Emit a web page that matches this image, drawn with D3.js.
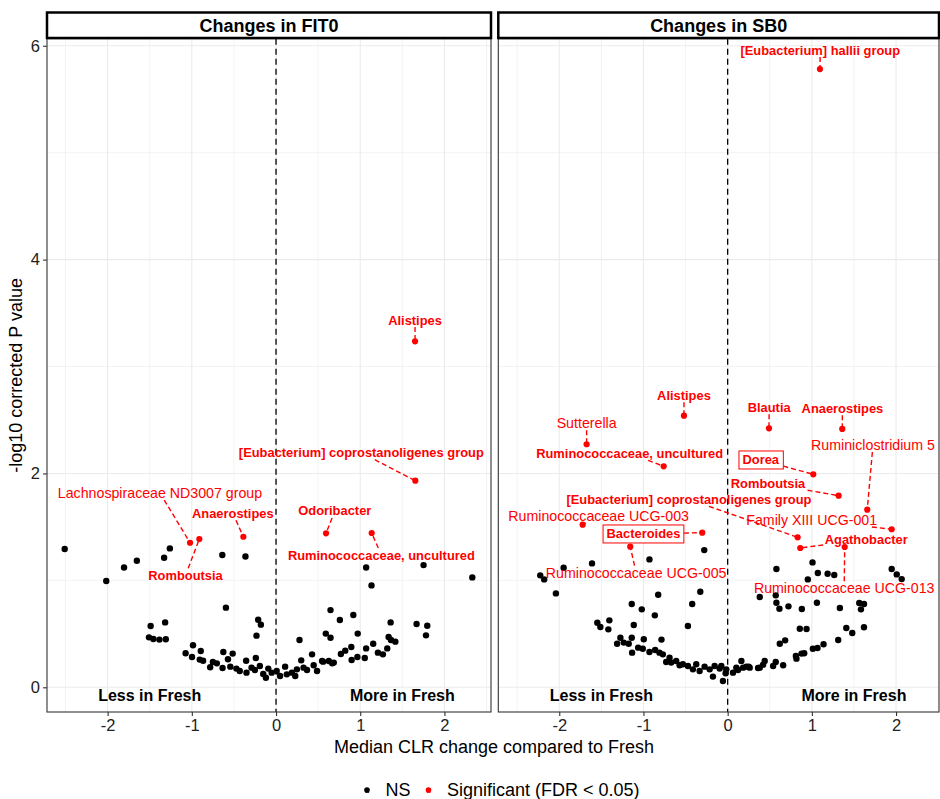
<!DOCTYPE html>
<html>
<head>
<meta charset="utf-8">
<script src="https://cdn.jsdelivr.net/npm/d3@7"></script>
<style>
  body { margin: 0; background: #fff; }
  text { font-family: "Liberation Sans", Arial, Helvetica, sans-serif; }
</style>
</head>
<body>
<div id="chart"></div>
<script>
// ---- data ----
const panelTitles = ["Changes in FIT0", "Changes in SB0"];
const xTicks = [-2, -1, 0, 1, 2];
const yTicks = [0, 2, 4, 6];
const legendLabels = ["NS", "Significant (FDR < 0.05)"];
const sideLabels = ["Less in Fresh", "More in Fresh"];

// FIT0, not significant: [median CLR change, -log10 p]
const fitNS = [
  [-2.51,1.293],[-2.016,0.994],[-1.805,1.121],[-1.653,1.184],[-1.329,1.212],[-1.261,1.299],[-0.638,1.237],[-0.363,1.224],
  [-1.489,0.573],[-1.317,0.607],[-1.509,0.467],[-1.457,0.452],[-1.385,0.446],[-1.309,0.449],
  [-0.595,0.745],[-0.212,0.632],[-0.180,0.586],[-0.232,0.483],[0.279,0.442],
  [-1.074,0.318],[-0.986,0.393],[-0.998,0.283],[-0.894,0.339],[-0.906,0.259],[-0.866,0.249],[-0.782,0.187],[-0.750,0.237],
  [-0.703,0.224],[-0.626,0.330],[-0.635,0.181],[-0.571,0.262],[-0.515,0.315],[-0.543,0.193],[-0.471,0.175],[-0.431,0.153],
  [-0.355,0.249],[-0.351,0.137],[-0.291,0.184],[-0.240,0.274],[-0.251,0.162],[-0.192,0.199],[-0.152,0.124],[-0.120,0.090],
  [-0.092,0.175],[-0.052,0.137],[0.008,0.153],[0.048,0.106],[0.108,0.193],[0.128,0.121],[0.188,0.137],[0.228,0.106],
  [0.248,0.168],[0.299,0.252],[0.327,0.184],[0.368,0.162],[0.428,0.308],[0.447,0.206],[0.487,0.153],[0.547,0.246],
  [0.591,0.502],[0.647,0.722],[0.647,0.464],[0.627,0.246],[0.667,0.224],[0.758,0.629],
  [0.918,0.676],[0.970,0.502],[1.134,0.953],[1.361,0.607],[1.337,0.470],[1.365,0.442],[1.417,0.427],[1.669,0.592],
  [1.796,0.576],[1.781,0.486],[0.894,0.377],[0.822,0.343],[0.770,0.311],[0.898,0.255],[0.966,0.283],[1.054,0.274],
  [1.070,0.364],[1.154,0.408],[1.210,0.324],[1.269,0.308],[1.321,0.364],[0.686,0.231],[0.559,0.240],
  [1.07,1.121],[1.752,1.143],[2.331,1.028]
];

// FIT0, significant: [taxon, x, y]
const fitSig = [
  ["Alistipes", 1.651, 3.236],
  ["[Eubacterium] coprostanoligenes group", 1.654, 1.932],
  ["Odoribacter", 0.594, 1.440],
  ["Ruminococcaceae, uncultured", 1.136, 1.443],
  ["Lachnospiraceae ND3007 group", -1.021, 1.352],
  ["Romboutsia", -0.911, 1.387],
  ["Anaerostipes", -0.388, 1.408]
];
// where the repelled labels ended up, same order, data units
const fitLabelAt = [
  [1.651, 3.435], [1.013, 2.194], [0.698, 1.649], [1.251, 1.237],
  [-1.378, 1.817], [-1.075, 1.047], [-0.513, 1.627]
];

// SB0, not significant
const sbNS = [
  [-2.226,1.047],[-2.179,1.009],[-1.948,1.118],[-2.040,0.878],[-1.611,1.159],[-0.929,1.196],[-0.278,1.283],[-0.325,0.894],
  [-0.825,0.866],[-0.421,0.779],[-1.139,0.779],[-1.020,0.729],[-0.865,0.673],[-0.472,0.573],[-1.115,0.583],[-1.548,0.604],
  [-1.512,0.564],[-1.405,0.626],[-1.417,0.542],[-1.313,0.408],[-1.274,0.464],[-1.234,0.418],[-1.175,0.408],[-1.139,0.464],
  [-1.135,0.324],[-1.063,0.371],[-1.008,0.361],[-0.996,0.449],[-0.786,0.446],[-0.929,0.330],[-0.861,0.349],[-0.810,0.324],
  [-0.770,0.308],[-0.730,0.237],[-0.690,0.277],[-0.671,0.231],[-0.611,0.246],[-0.571,0.206],[-0.532,0.215],[-0.472,0.199],
  [-0.413,0.168],[-0.373,0.215],[-0.333,0.153],[-0.274,0.193],[-0.214,0.168],[-0.155,0.199],[-0.095,0.175],[-0.056,0.059],
  [-0.024,0.131],[-0.175,0.100],[0.163,0.246],[0.103,0.184],[0.222,0.193],[0.262,0.184],[0.063,0.137],[0.381,0.184],
  [0.579,1.106],[1.008,1.168],[0.952,1.009],[1.071,1.069],[1.187,1.062],[1.266,1.050],[1.948,1.106],[2.008,1.056],
  [2.067,1.012],[0.381,0.844],[0.571,0.860],[0.579,0.791],[0.615,0.735],[0.722,0.757],[0.881,0.732],[1.060,0.791],
  [1.333,0.741],[1.563,0.788],[1.619,0.779],[1.583,0.729],[0.857,0.548],[0.937,0.545],[0.619,0.408],[0.683,0.439],
  [1.409,0.554],[1.480,0.508],[1.619,0.561],[1.313,0.442],[1.139,0.402],[1.067,0.367],[1.012,0.361],[0.909,0.318],
  [0.877,0.315],[0.817,0.268],[0.810,0.293],[0.659,0.206],[0.571,0.237],[0.540,0.199],[0.440,0.246],[0.421,0.212],
  [0.361,0.181],[0.25,0.193],[0.183,0.184],[0.123,0.162],[-0.016,0.168],[-0.075,0.199]
];

// SB0, significant
const sbSig = [
  ["[Eubacterium] hallii group", 1.096, 5.782],
  ["Alistipes", -0.519, 2.540],
  ["Sutterella", -1.675, 2.273],
  ["Ruminococcaceae, uncultured", -0.760, 2.067],
  ["Ruminococcaceae UCG-003", -1.722, 1.521],
  ["Bacteroides", -0.302, 1.446],
  ["Ruminococcaceae UCG-005", -1.157, 1.315],
  ["[Eubacterium] coprostanoligenes group", 0.831, 1.403],
  ["Blautia", 0.491, 2.422],
  ["Anaerostipes", 1.361, 2.416],
  ["Ruminiclostridium 5", 1.658, 1.661],
  ["Dorea", 1.017, 1.992],
  ["Romboutsia", 1.318, 1.792],
  ["Family XIII UCG-001", 1.948, 1.478],
  ["Agathobacter", 0.862, 1.303],
  ["Ruminococcaceae UCG-013", 1.390, 1.312]
];
const sbLabelAt = [
  [1.100, 5.960], [-0.519, 2.731], [-1.675, 2.469], [-1.164, 2.188],
  [-1.532, 1.602], [-1.000, 1.434], [-1.087, 1.072], [-0.460, 1.758],
  [0.493, 2.619], [1.363, 2.609], [1.726, 2.266], [0.393, 2.126],
  [0.479, 1.908], [0.998, 1.565], [1.646, 1.384], [1.384, 0.926]
];

// label styling (genera shown bold / boxed in the original)
const plainLabels = new Set(["Lachnospiraceae ND3007 group", "Sutterella", "Ruminococcaceae UCG-003",
  "Ruminococcaceae UCG-005", "Ruminiclostridium 5", "Family XIII UCG-001", "Ruminococcaceae UCG-013"]);
const boxedLabels = new Set(["Bacteroides", "Dorea"]);

// ---- layout ----
const W = 940, H = 799;
const RED = "#FF0000";
const panelTop = 38.7, panelBottom = 712;
const panelsGeo = [
  {x0: 47, x1: 491, domain: [-2.72, 2.553], ns: fitNS, sig: fitSig, lab: fitLabelAt},
  {x0: 498.3, x1: 939, domain: [-2.724, 2.51], ns: sbNS, sig: sbSig, lab: sbLabelAt}
];

const svg = d3.select("#chart").append("svg")
  .attr("width", W).attr("height", H)
  .attr("viewBox", "0 0 " + W + " " + H);

const y = d3.scaleLinear().domain([-0.231, 6.066]).range([panelBottom, panelTop]);
const fmt = d => (d < 0 ? "-" : "") + Math.abs(d);

panelsGeo.forEach(function(p, i) {
  const x = d3.scaleLinear().domain(p.domain).range([p.x0, p.x1]);
  const g = svg.append("g");

  // grid
  const minorX = d3.range(-2.5, 3, 1).filter(v => v > p.domain[0] && v < p.domain[1]);
  const minorY = [1, 3, 5];
  g.selectAll(".mx").data(minorX).enter().append("line")
    .attr("x1", d => x(d)).attr("x2", d => x(d)).attr("y1", panelTop).attr("y2", panelBottom)
    .attr("stroke", "#ebebeb").attr("stroke-width", 0.6);
  g.selectAll(".my").data(minorY).enter().append("line")
    .attr("x1", p.x0).attr("x2", p.x1).attr("y1", d => y(d)).attr("y2", d => y(d))
    .attr("stroke", "#ebebeb").attr("stroke-width", 0.6);
  g.selectAll(".gx").data(xTicks).enter().append("line")
    .attr("x1", d => x(d)).attr("x2", d => x(d)).attr("y1", panelTop).attr("y2", panelBottom)
    .attr("stroke", "#ebebeb").attr("stroke-width", 1.1);
  g.selectAll(".gy").data(yTicks).enter().append("line")
    .attr("x1", p.x0).attr("x2", p.x1).attr("y1", d => y(d)).attr("y2", d => y(d))
    .attr("stroke", "#ebebeb").attr("stroke-width", 1.1);

  // zero line
  g.append("line")
    .attr("x1", x(0)).attr("x2", x(0)).attr("y1", panelTop).attr("y2", panelBottom)
    .attr("stroke", "black").attr("stroke-width", 1.3).attr("stroke-dasharray", "6,4");

  // side annotations
  g.selectAll(".side").data(sideLabels).enter().append("text")
    .attr("x", (d, j) => x(j === 0 ? -1.5 : 1.5))
    .attr("y", y(0) + 14)
    .attr("text-anchor", "middle")
    .attr("font-size", 16).attr("font-weight", "bold")
    .text(d => d);

  // points
  g.selectAll(".ns").data(p.ns).enter().append("circle")
    .attr("cx", d => x(d[0])).attr("cy", d => y(d[1])).attr("r", 3.2).attr("fill", "black");

  // label segments + labels
  const lg = g.append("g");
  const segG = lg.append("g");
  p.sig.forEach(function(s, k) {
    const lx = x(p.lab[k][0]), ly = y(p.lab[k][1]);
    const bold = !plainLabels.has(s[0]);
    const t = lg.append("text")
      .attr("x", lx).attr("y", ly)
      .attr("text-anchor", "middle").attr("dominant-baseline", "central")
      .attr("font-size", bold ? 12.9 : 14.2)
      .attr("font-weight", bold ? "bold" : "normal")
      .attr("fill", RED)
      .text(s[0]);
    const bb = t.node().getBBox();
    let bx0 = bb.x - 1.5, bx1 = bb.x + bb.width + 1.5, by0 = ly - 7, by1 = ly + 7;
    if (boxedLabels.has(s[0])) {
      bx0 = bb.x - 3.5; bx1 = bb.x + bb.width + 3.5; by0 = ly - 9; by1 = ly + 9;
      lg.insert("rect", function() { return t.node(); })
        .attr("x", bx0).attr("y", by0).attr("width", bx1 - bx0).attr("height", by1 - by0)
        .attr("fill", "white").attr("stroke", RED).attr("stroke-width", 1);
    }
    // segment from label box edge to the point
    const px = x(s[1]), py = y(s[2]);
    const dx = px - lx, dy = py - ly;
    if (!(px > bx0 && px < bx1 && py > by0 && py < by1)) {
      const tx = dx === 0 ? Infinity : ((dx > 0 ? bx1 : bx0) - lx) / dx;
      const ty = dy === 0 ? Infinity : ((dy > 0 ? by1 : by0) - ly) / dy;
      const tt = Math.min(tx, ty);
      const sx = lx + tt * dx, sy = ly + tt * dy;
      const len = Math.hypot(px - sx, py - sy);
      if (len > 2) {
        segG.append("line")
          .attr("x1", sx).attr("y1", sy)
          .attr("x2", px - (px - sx) / len * 1.5).attr("y2", py - (py - sy) / len * 1.5)
          .attr("stroke", RED).attr("stroke-width", 1.4).attr("stroke-dasharray", "5,3");
      }
    }
  });
  g.insert("g", function() { return lg.node(); }).selectAll("circle").data(p.sig).enter().append("circle")
    .attr("cx", d => x(d[1])).attr("cy", d => y(d[2])).attr("r", 3.1).attr("fill", RED);

  // panel border
  g.append("rect")
    .attr("x", p.x0).attr("y", panelTop).attr("width", p.x1 - p.x0).attr("height", panelBottom - panelTop)
    .attr("fill", "none").attr("stroke", "#333333").attr("stroke-width", 1.1);

  // strip
  g.append("rect")
    .attr("x", p.x0).attr("y", 12.5).attr("width", p.x1 - p.x0).attr("height", 25.5)
    .attr("fill", "white").attr("stroke", "black").attr("stroke-width", 2.5);
  g.append("text")
    .attr("x", (p.x0 + p.x1) / 2).attr("y", 25.5)
    .attr("text-anchor", "middle").attr("dominant-baseline", "central")
    .attr("font-size", 18).attr("font-weight", "bold")
    .text(panelTitles[i]);

  // x axis
  const xa = g.append("g").attr("transform", "translate(0," + panelBottom + ")")
    .call(d3.axisBottom(x).tickValues(xTicks).tickSize(4).tickPadding(3).tickFormat(fmt));
  xa.select(".domain").remove();
  xa.selectAll("line").attr("stroke", "#333333").attr("stroke-width", 1.1);
  xa.selectAll("text").attr("font-size", 16.5).attr("fill", "#222")
    .attr("font-family", "'Liberation Sans', Arial, sans-serif");

  if (i === 0) {
    const ya = g.append("g").attr("transform", "translate(" + p.x0 + ",0)")
      .call(d3.axisLeft(y).tickValues(yTicks).tickSize(4).tickPadding(3).tickFormat(fmt));
    ya.select(".domain").remove();
    ya.selectAll("line").attr("stroke", "#333333").attr("stroke-width", 1.1);
    ya.selectAll("text").attr("font-size", 16.5).attr("fill", "#222")
      .attr("font-family", "'Liberation Sans', Arial, sans-serif");
  }
});

// axis titles
svg.append("text")
  .attr("x", 494).attr("y", 747)
  .attr("text-anchor", "middle").attr("dominant-baseline", "central")
  .attr("font-size", 18).text("Median CLR change compared to Fresh");
svg.append("text")
  .attr("transform", "translate(16," + ((panelTop + panelBottom) / 2) + ") rotate(-90)")
  .attr("text-anchor", "middle").attr("dominant-baseline", "central")
  .attr("font-size", 18).text("-log10 corrected P value");

// legend
const legColors = ["black", RED];
const legX = [367, 428.5];
const leg = svg.append("g");
legendLabels.forEach(function(l, k) {
  leg.append("circle").attr("cx", legX[k]).attr("cy", 790).attr("r", 2.8).attr("fill", legColors[k]);
  leg.append("text").attr("x", legX[k]).attr("y", 790)
    .attr("text-anchor", "middle").attr("dominant-baseline", "central")
    .attr("font-size", 7).attr("font-weight", "bold").attr("fill", legColors[k]).text("a");
  leg.append("text").attr("x", legX[k] + 18.5).attr("y", 790)
    .attr("dominant-baseline", "central").attr("font-size", 18).text(l);
});
</script>
</body>
</html>
